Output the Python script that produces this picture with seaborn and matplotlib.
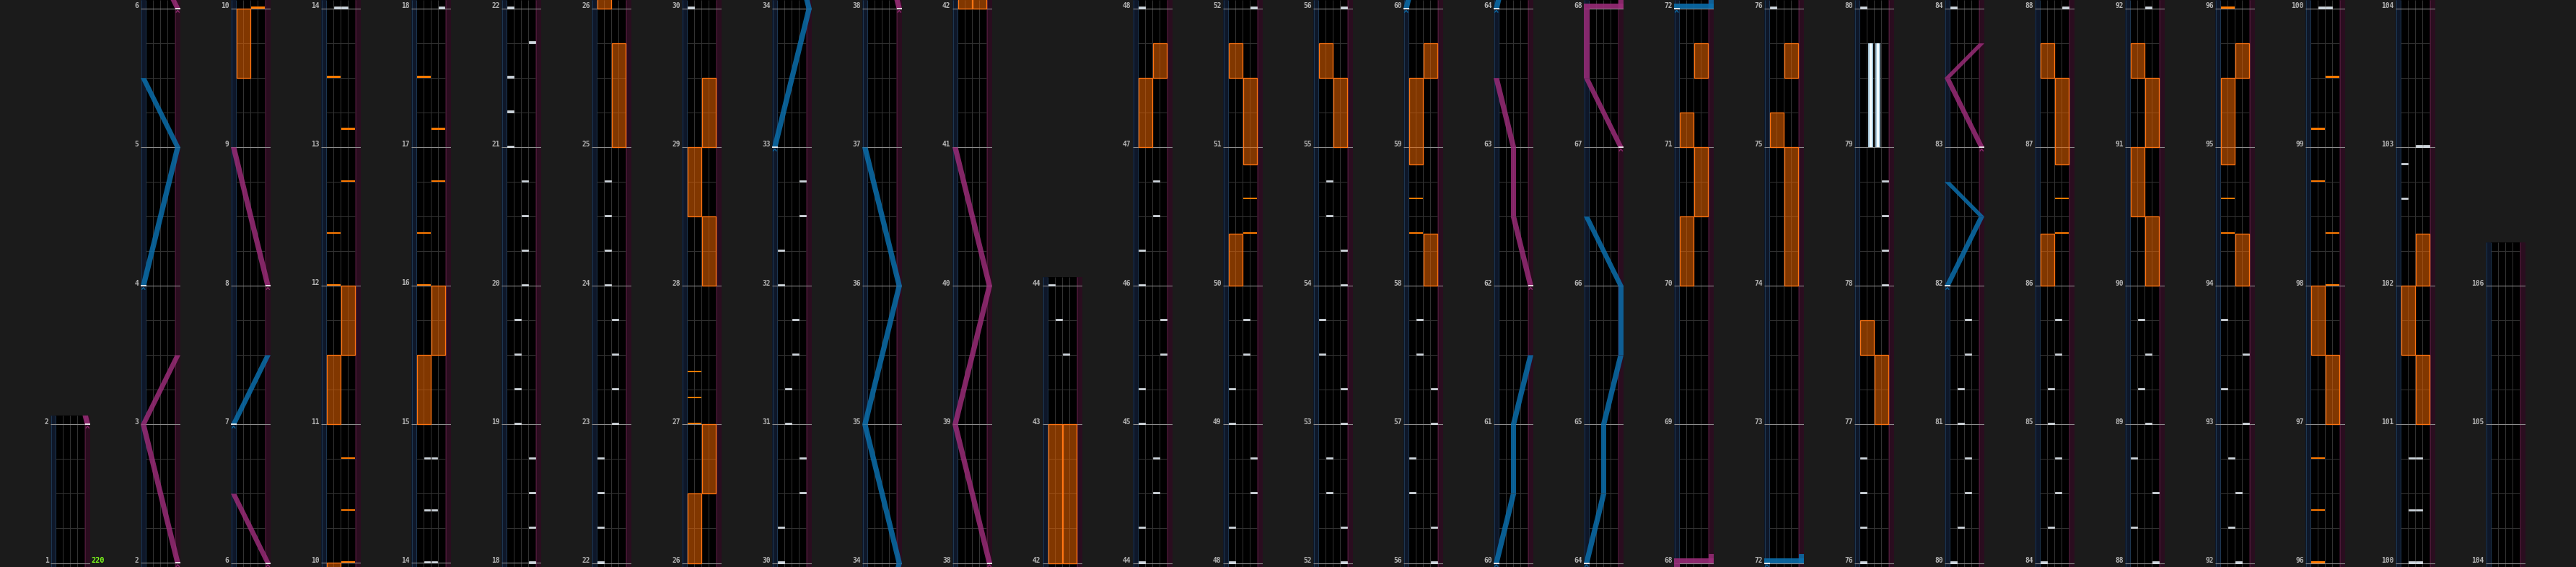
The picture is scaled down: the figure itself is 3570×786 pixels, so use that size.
import matplotlib
matplotlib.use("Agg")
import matplotlib.pyplot as plt
from matplotlib.patches import Rectangle, Polygon
import numpy as np
import seaborn as sns

# ---------------- chart data (positions in measures; measure n starts at n) ----------------
PAGE_STARTS = [1, 2, 6, 10, 14, 18, 22, 26, 30, 34, 38, 42,
               44, 48, 52, 56, 60, 64, 68, 72, 76, 80, 84, 88, 92, 96, 100, 104]
CHART_END = 106.25
BPM_LABEL = "220"

# BT chips: (time, lanes)
BT_CHIPS = [
    (14, "BC"), (14.375, "BC"), (14.75, "BC"),
    (18, "D"), (18.25, "D"), (18.5, "D"), (18.75, "D"),
    (19, "B"), (19.25, "B"), (19.5, "B"), (19.75, "B"),
    (20, "C"), (20.25, "C"), (20.5, "C"), (20.75, "C"),
    (21, "A"), (21.25, "A"), (21.5, "A"), (21.75, "D"),
    (22, "A"), (22.25, "A"), (22.5, "A"), (22.75, "A"),
    (23, "C"), (23.25, "C"), (23.5, "C"), (23.75, "C"),
    (24, "B"), (24.25, "B"), (24.5, "B"), (24.75, "B"),
    (30, "A"), (30.25, "A"), (30.5, "D"), (30.75, "D"),
    (31, "B"), (31.25, "B"), (31.5, "C"), (31.75, "C"),
    (32, "A"), (32.25, "A"), (32.5, "D"), (32.75, "D"),
    (43.5, "C"), (43.75, "B"),
    (44, "A"), (44.25, "A"), (44.5, "C"), (44.75, "C"),
    (45, "A"), (45.25, "A"), (45.5, "D"), (45.75, "D"),
    (46, "A"), (46.25, "A"), (46.5, "C"), (46.75, "C"),
    (48, "A"), (48.25, "A"), (48.5, "D"), (48.75, "D"),
    (49, "A"), (49.25, "A"), (49.5, "C"), (49.75, "C"),
    (52, "D"), (52.25, "D"), (52.5, "B"), (52.75, "B"),
    (53, "D"), (53.25, "D"), (53.5, "A"), (53.75, "A"),
    (54, "D"), (54.25, "D"), (54.5, "B"), (54.75, "B"),
    (56, "D"), (56.25, "D"), (56.5, "A"), (56.75, "A"),
    (57, "D"), (57.25, "D"), (57.5, "B"), (57.75, "B"),
    (76, "A"), (76.25, "A"), (76.5, "A"), (76.75, "A"),
    (78, "D"), (78.25, "D"), (78.5, "D"), (78.75, "D"),
    (80, "A"), (80.25, "B"), (80.5, "C"), (80.75, "C"),
    (81, "B"), (81.25, "B"), (81.5, "C"), (81.75, "C"),
    (84, "A"), (84.25, "B"), (84.5, "C"), (84.75, "C"),
    (85, "B"), (85.25, "B"), (85.5, "C"), (85.75, "C"),
    (88, "D"), (88.25, "A"), (88.5, "D"), (88.75, "A"),
    (89, "C"), (89.25, "B"), (89.5, "C"), (89.75, "B"),
    (92, "C"), (92.25, "B"), (92.5, "C"), (92.75, "B"),
    (93, "D"), (93.25, "A"), (93.5, "D"), (93.75, "A"),
    (100, "BC"), (100.375, "BC"), (100.75, "BC"),
    (102.625, "A"), (102.875, "A"), (103, "CD"),
]

# BT holds: (start, end, lane)
BT_HOLDS = [(79, 79.75, "B"), (79, 79.75, "C")]

# FX chips
FX_L_CHIPS = [12, 12.375, 13.5, 16, 16.375, 17.5, 27, 27.1875, 27.375,
              58.375, 58.625, 94.375, 94.625, 96, 96.375, 96.75, 98.75, 99.125]
FX_R_CHIPS = [10, 10.375, 10.75, 12.75, 13.125, 16.75, 17.125, 50.375, 50.625,
              86.375, 86.625, 98, 98.375, 99.5]

# FX holds: (start, end)
FX_L_HOLDS = [(9.5, 10), (11, 11.5), (15, 15.5), (26, 26.5), (28.5, 29), (42, 43),
              (47, 47.5), (50, 50.375), (51.5, 51.75), (55.5, 55.75), (58.875, 59.5),
              (70, 70.5), (71, 71.25), (75, 75.25), (77.5, 77.75), (86, 86.375),
              (87.5, 87.75), (90.5, 91), (91.5, 91.75), (94.875, 95.5), (97.5, 98),
              (101.5, 102)]
FX_R_HOLDS = [(11.5, 12), (15.5, 16), (25, 25.75), (26.5, 27), (28, 28.5), (29, 29.5),
              (42, 43), (47.5, 47.75), (50.875, 51.5), (55, 55.5), (58, 58.375),
              (59.5, 59.75), (70.5, 71), (71.5, 71.75), (74, 75), (75.5, 75.75),
              (77, 77.5), (86.875, 87.5), (90, 90.5), (91, 91.5), (94, 94.375),
              (95.5, 95.75), (97, 97.5), (101, 101.5), (102, 102.375)]

# Lasers: list of (time, position 0..1) polylines; equal consecutive times = slam
LASER_L = [
    [(4, 0), (5, 1), (5.5, 0)],
    [(7, 0), (7.5, 1)],
    [(33, 0), (34, 1), (35, 0), (36, 1), (37, 0)],
    [(60, 0), (60.5, 0.5), (61, 0.5), (61.5, 1)],
    [(64, 0), (64.5, 0.5), (65, 0.5), (65.5, 1), (66, 1), (66.5, 0)],
    [(72, 0), (72, 1), (72.0625, 1)],
    [(82, 0), (82.5, 1), (82.75, 0)],
]
LASER_R = [
    [(2, 1), (3, 0), (3.5, 1)],
    [(6, 1), (6.5, 0)],
    [(8, 1), (9, 0)],
    [(38, 1), (39, 0), (40, 1), (41, 0)],
    [(62, 1), (62.5, 0.5), (63, 0.5), (63.5, 0)],
    [(67, 1), (67.5, 0), (68, 0), (68, 1), (68.0625, 1)],
    [(83, 1), (83.5, 0), (83.75, 1)],
]

# ---------------- style ----------------
W, H = 3570, 786
PX_M = 192.1          # pixels per measure
BG = "#1b1b1b"
LANE_BG = "#000000"
L_BAND, L_BAND_EDGE = "#0e1729", "#1d3650"
R_BAND, R_BAND_EDGE = "#2a0d1f", "#4a1836"
BEAT_C = "#323232"
MEASURE_C = "#8c8c8c"
LABEL_C = "#b4b4b4"
FX_EDGE = "#ff7412"
FX_FILL = (0.93, 0.40, 0.0, 0.55)
FX_CHIP = "#ff7a00"
BT_FACE, BT_EDGE = "#c9d3dc", "#f4f7fa"
BLUE, PINK = "#0b6eab", "#9a2c78"
LANE_X = {"A": 0, "B": 1, "C": 2, "D": 3}
PX = 0.72  # one pixel in points

sns.set_theme(style="dark", rc={"figure.facecolor": BG, "axes.facecolor": LANE_BG})
plt.rcParams["font.family"] = ["DejaVu Sans Mono", "DejaVu Sans"]

fig = plt.figure(figsize=(W / 100, H / 100), dpi=100, facecolor=BG)

XL, XR = -0.73, 4.77
LW_LASER = 0.75
CHIP_H = 2.7 / PX_M
SLAM_H = 7.0 / PX_M


def lx(p):
    return XL + p * (XR - XL - LW_LASER)


def draw_laser(ax, pts, color, lo, hi):
    ts = [p[0] for p in pts]
    if max(ts) < lo or min(ts) > hi:
        return
    # start marker
    t0, p0 = pts[0]
    x0 = lx(p0)
    ax.add_patch(Polygon([(x0 + 0.12, t0 - 0.028), (x0 + LW_LASER / 2, t0 - 0.012),
                          (x0 + LW_LASER - 0.12, t0 - 0.028)], closed=False, fill=False,
                         edgecolor=color, lw=1.0, zorder=6, alpha=0.9))
    for (ta, pa), (tb, pb) in zip(pts[:-1], pts[1:]):
        if ta == tb:
            xa, xb = sorted([lx(pa), lx(pb)])
            ax.add_patch(Rectangle((xa, ta), xb + LW_LASER - xa, SLAM_H,
                                   facecolor=color, edgecolor="none", alpha=0.9, zorder=6))
        else:
            poly = [(lx(pa), ta), (lx(pa) + LW_LASER, ta),
                    (lx(pb) + LW_LASER, tb), (lx(pb), tb)]
            ax.add_patch(Polygon(poly, closed=True, facecolor=color,
                                 edgecolor="none", alpha=0.85, zorder=6))
    ax.hlines(t0, x0, x0 + LW_LASER, color="white", lw=1.6 * PX, zorder=7)


ends = PAGE_STARTS[1:] + [CHART_END]
for k, (s, e) in enumerate(zip(PAGE_STARTS, ends)):
    t_bot = s - 5.5 / PX_M
    t_top = min(e + 12.5 / PX_M, s + 780.5 / PX_M)
    h = (t_top - t_bot) * PX_M / H
    ax = fig.add_axes([(70 + 125 * k) / W, 0, 55 / W, h])
    ax.set_xlim(XL, XR)
    ax.set_ylim(t_bot, t_top)
    ax.set_xticks([])
    ax.set_yticks([])
    ax.grid(False)
    for sp in ax.spines.values():
        sp.set_visible(False)
    ax.set_facecolor(LANE_BG)

    # side bands
    ax.add_patch(Rectangle((XL, t_bot), -XL, t_top - t_bot, facecolor=L_BAND,
                           edgecolor="none", zorder=1))
    ax.add_patch(Rectangle((4, t_bot), XR - 4, t_top - t_bot, facecolor=R_BAND,
                           edgecolor="none", zorder=1))
    ax.vlines([XL + 0.05, -0.05], t_bot, t_top, color=L_BAND_EDGE, lw=PX, zorder=1.5)
    ax.vlines([4.05, XR - 0.05], t_bot, t_top, color=R_BAND_EDGE, lw=PX, zorder=1.5)
    ax.vlines([1, 2, 3], t_bot, t_top, color=BEAT_C, lw=PX, zorder=2)

    # beat & measure lines
    beats = np.arange(np.floor(t_bot), np.ceil(t_top) + 0.01, 0.25)
    beats = beats[(beats >= t_bot) & (beats <= t_top)]
    minor = [b for b in beats if abs(b - round(b)) > 1e-6]
    major = [b for b in beats if abs(b - round(b)) < 1e-6 and s <= b <= e]
    ax.hlines(minor, 0, 4, color=BEAT_C, lw=PX, zorder=2)
    ax.hlines(major, XL, XR, color=MEASURE_C, lw=1.1 * PX, zorder=3)

    lo, hi = t_bot - 1, t_top + 1
    # FX holds
    for holds, x0 in ((FX_L_HOLDS, 0), (FX_R_HOLDS, 2)):
        for a, b in holds:
            if b < lo or a > hi:
                continue
            ax.add_patch(Rectangle((x0 + 0.05, a), 1.9, b - a, facecolor=FX_FILL,
                                   edgecolor=FX_EDGE, lw=1.3 * PX, zorder=4))
    # BT holds
    for a, b, ln in BT_HOLDS:
        if b < lo or a > hi:
            continue
        x0 = LANE_X[ln]
        ax.add_patch(Rectangle((x0 + 0.17, a), 0.66, b - a, facecolor="#a9c9dc",
                               edgecolor="none", zorder=4.5))
        ax.add_patch(Rectangle((x0 + 0.32, a), 0.36, b - a, facecolor="#f4fbff",
                               edgecolor="none", zorder=4.6))
    # FX chips
    for chips, x0 in ((FX_L_CHIPS, 0), (FX_R_CHIPS, 2)):
        for t in chips:
            if lo <= t <= hi:
                ax.add_patch(Rectangle((x0 + 0.05, t), 1.9, CHIP_H, facecolor=FX_CHIP,
                                       edgecolor="none", zorder=5))
    # BT chips
    for t, lanes in BT_CHIPS:
        if not (lo <= t <= hi):
            continue
        for ln in lanes:
            ax.add_patch(Rectangle((LANE_X[ln] + 0.08, t), 0.84, CHIP_H,
                                   facecolor=BT_FACE, edgecolor=BT_EDGE,
                                   lw=0.6 * PX, zorder=5.5))
    # lasers
    for pts in LASER_L:
        draw_laser(ax, pts, BLUE, lo, hi)
    for pts in LASER_R:
        draw_laser(ax, pts, PINK, lo, hi)

    # measure numbers
    for m in range(int(np.ceil(s)), int(np.floor(e)) + 1):
        ax.text(XL - 0.25, m + 0.8 / PX_M, str(m), ha="right", va="baseline",
                fontsize=6.9, fontweight="bold", color=LABEL_C, clip_on=False, zorder=8)
    if k == 0:
        ax.text(XR + 0.12, s + 0.8 / PX_M, BPM_LABEL, ha="left", va="baseline",
                fontsize=7.4, fontweight="bold", color="#7dff1a", clip_on=False, zorder=8)

fig.savefig("out.png", dpi=100, facecolor=BG)
